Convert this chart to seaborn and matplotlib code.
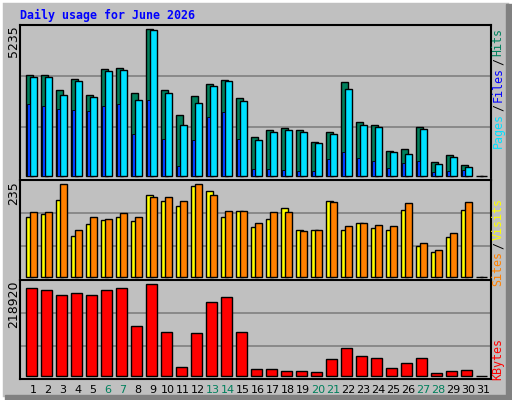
import matplotlib.pyplot as plt
import matplotlib.patches as mpatches
import seaborn as sns
import numpy as np

sns.set_theme(style="white")
plt.rcParams['font.family'] = ['DejaVu Sans Mono', 'DejaVu Sans']

days = [str(d) for d in range(1, 32)]
weekend = ['6', '7', '13', '14', '20', '21', '27', '28']
hits = [3597, 3597, 3074, 3454, 2884, 3810, 3846, 2956, 5235, 3074, 2172, 2849, 3276, 3419, 2778,
        1389, 1638, 1709, 1638, 1211, 1567, 3347, 1923, 1816, 890, 961, 1745, 499, 748, 392, 0]
files = [3525, 3525, 2884, 3383, 2813, 3739, 3775, 2706, 5199, 2956, 1816, 2600, 3205, 3383, 2671,
         1282, 1567, 1638, 1567, 1175, 1496, 3098, 1816, 1745, 855, 783, 1674, 427, 677, 320, 0]
pages = [2564, 2493, 2386, 2350, 2315, 2493, 2564, 1496, 2706, 1318, 356, 1282, 2101, 2279, 1318,
         249, 249, 214, 178, 178, 605, 855, 641, 534, 285, 463, 534, 142, 178, 214, 0]
visits = [164, 164, 235, 120, 151, 146, 161, 153, 204, 204, 192, 235, 209, 166, 166,
          136, 164, 164, 115, 120, 189, 128, 136, 131, 128, 187, 87, 67, 110, 189, 0]
sites = [151, 159, 194, 103, 133, 143, 151, 141, 207, 192, 181, 230, 217, 151, 166,
         126, 148, 176, 120, 120, 192, 118, 136, 123, 118, 169, 77, 64, 100, 169, 0]
kbytes = [209340, 204540, 192560, 197350, 192560, 204540, 209340, 118250, 218920, 103870,
          19980, 101470, 175780, 187760, 103870, 15180, 15180, 10390, 10390, 7990, 39150,
          65520, 46340, 41550, 17580, 29560, 41550, 5590, 10390, 12780, 0]

BG = '#C0C0C0'
C_HITS, C_FILES, C_PAGES = '#00805C', '#00E0FF', '#0040FF'
C_SITES, C_VISITS, C_KB = '#FFFF00', '#FF8000', '#FF0000'
x = np.arange(len(days))

fig = plt.figure(figsize=(5.12, 4.0), dpi=100, facecolor=BG)
# white border + shadow
fig.patches.append(mpatches.Rectangle((0, 0), 1, 1, transform=fig.transFigure,
                                      fill=False, ec='white', lw=4))
fig.patches.append(mpatches.Rectangle((0.988, 0.0), 0.012, 0.99, transform=fig.transFigure,
                                      color='#808080'))
fig.patches.append(mpatches.Rectangle((0.01, 0.0), 0.99, 0.012, transform=fig.transFigure,
                                      color='#808080'))

L, W = 20.3 / 512, 470.4 / 512
ax1 = fig.add_axes([L, 0.55, W, 0.3875])
ax2 = fig.add_axes([L, 0.30, W, 0.25])
ax3 = fig.add_axes([L, 0.0533, W, 0.2467])

def style(ax, top, ylim, grid, label):
    ax.set_facecolor(BG)
    ax.set_xlim(-0.35, 31.01)
    ax.set_ylim(*ylim)
    for g in grid:
        ax.axhline(g, color='#808080', lw=1.2, zorder=0)
    ax.set_xticks([])
    ax.set_yticks([])
    for s in ax.spines.values():
        s.set_color('black')
        s.set_linewidth(1.5)
    ax.spines['bottom'].set_color('white')
    fig.text(14 / 512, 1 - 25 / 400 if top is None else top, label, rotation=90,
             ha='center', va='top', fontsize=9, color='black', family='DejaVu Sans')

kw = dict(align='edge', edgecolor='black', linewidth=1)
ax1.bar(x, hits, width=0.49, color=C_HITS, **kw)
ax1.bar(x + 0.27, files, width=0.49, color=C_FILES, **kw)
ax1.bar(x + 0.07, pages, width=0.2, color=C_PAGES, edgecolor='black', linewidth=0.6, align='edge')
style(ax1, 1 - 25 / 400, (-142, 5390), [1745, 3561], str(max(hits)))

ax2.bar(x, sites, width=0.49, color=C_SITES, **kw)
ax2.bar(x + 0.27, visits, width=0.49, color=C_VISITS, **kw)
style(ax2, 1 - 181 / 400, (-8.4, 246), [77, 161], str(max(visits)))

ax3.bar(x + 0.05, kbytes, width=0.71, color=C_KB, **kw)
style(ax3, 1 - 281 / 400, (-7190, 229220), [71110, 149400], str(max(kbytes)))
ax3.spines['bottom'].set_color('black')

for i, d in enumerate(days):
    ax3.text(i + 0.5, -0.06, d, transform=ax3.get_xaxis_transform(), ha='center', va='top',
             fontsize=8, family='DejaVu Sans',
             color=C_HITS if d in weekend else 'black')

fig.text(20 / 512, 1 - 15 / 400, 'Daily usage for June 2026', color='#0000FF',
         fontsize=8.4, fontweight='bold', va='center', ha='left')

def right_label(parts, y_top):
    y = y_top
    for txt, col in parts:
        t = fig.text(498 / 512, y, txt, rotation=90, ha='center', va='top',
                     color=col, fontsize=8.4)
        y -= (len(txt) * 7 + 2) / 400

right_label([('Hits', C_HITS), ('/', 'black'), ('Files', '#0000FF'), ('/', 'black'),
             ('Pages', C_FILES)], 1 - 28 / 400)
right_label([('Visits', C_SITES), ('/', 'black'), ('Sites', C_VISITS)], 1 - 198 / 400)
right_label([('KBytes', C_KB)], 1 - 338 / 400)

plt.savefig('out.png', dpi=100, facecolor=BG)
